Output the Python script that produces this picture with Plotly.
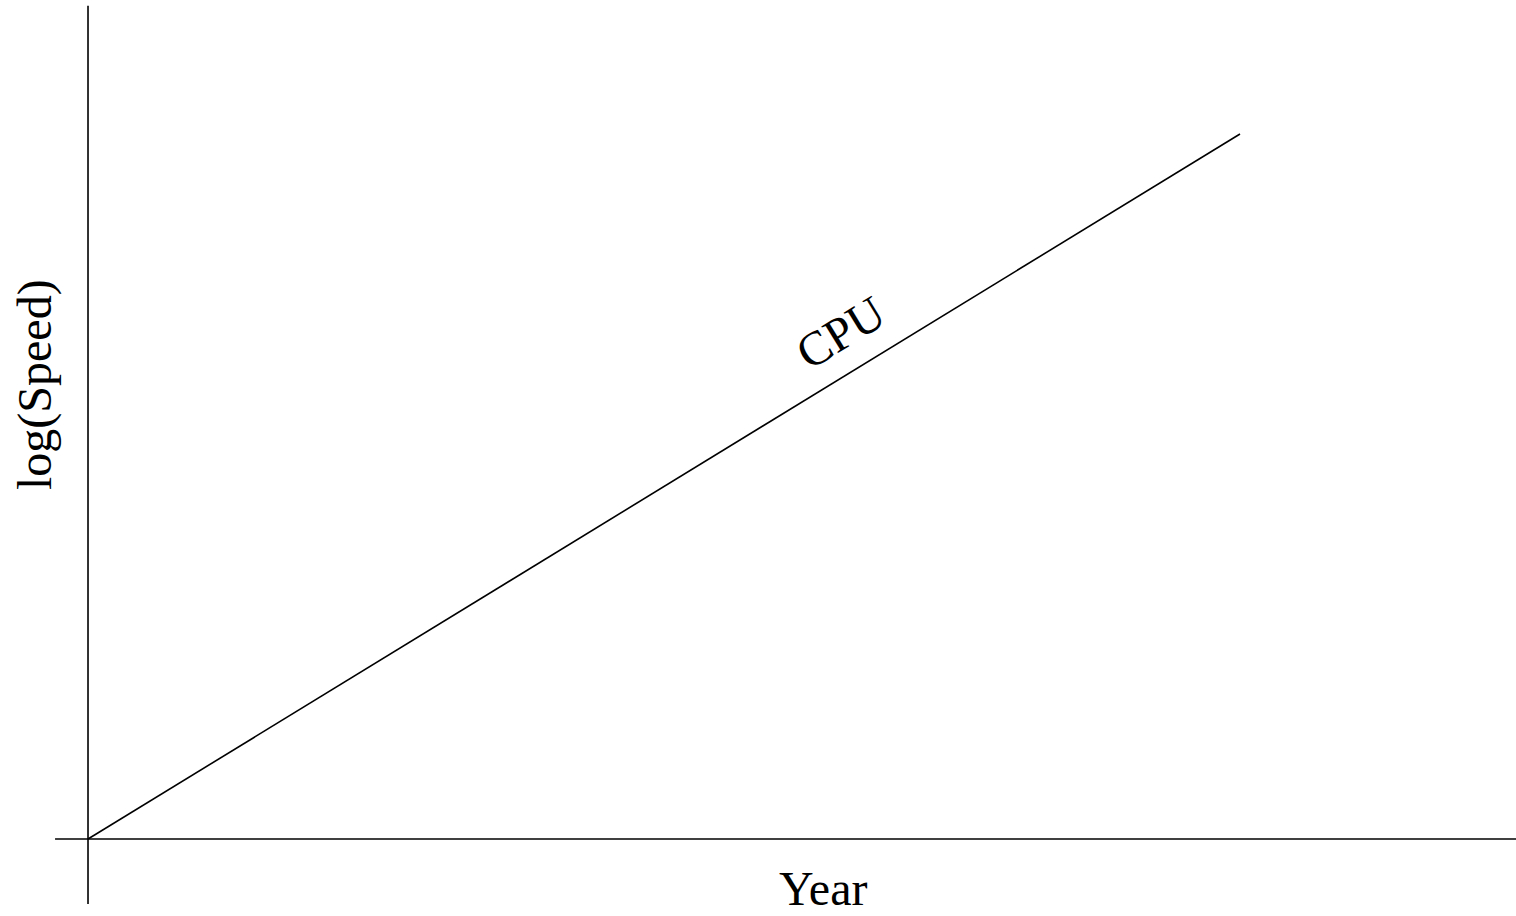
import plotly.graph_objects as go

# Data (abstract units: origin of the axes at (0, 0))
year = [0, 100]
log_speed = [0, 100]
series_label = "CPU"
x_title = "Year"
y_title = "log(Speed)"

W, H = 1516, 916
# axis ranges chosen so that the origin sits at pixel (88, 839)
x_range = [-7.64, 123.96]
y_range = [-10.92, 119.0]

fig = go.Figure()
fig.add_trace(go.Scatter(x=year, y=log_speed, mode="lines",
                         line=dict(color="black", width=1.6), showlegend=False,
                         hoverinfo="skip"))

# axis lines
fig.add_shape(type="line", x0=-2.86, x1=x_range[1], y0=0, y1=0,
              line=dict(color="black", width=1.6))
fig.add_shape(type="line", x0=0, x1=0, y0=-9.22, y1=118.2,
              line=dict(color="black", width=1.6))

font = "Liberation Serif, Times New Roman, serif"
fig.add_annotation(x=65.3, y=71.8, text=series_label, showarrow=False,
                   textangle=-31.5, font=dict(family=font, size=48, color="black"))
fig.add_annotation(x=63.8, xref="x", y=0, yref="paper", yanchor="bottom",
                   borderpad=0, text=x_title, showarrow=False,
                   font=dict(family=font, size=48, color="black"))
fig.add_annotation(x=-4.6, y=64.4, text=y_title, showarrow=False,
                   textangle=-90, font=dict(family=font, size=48, color="black"))

fig.update_layout(
    width=W, height=H, margin=dict(l=0, r=0, t=0, b=0),
    plot_bgcolor="white", paper_bgcolor="white",
    xaxis=dict(range=x_range, visible=False, fixedrange=True),
    yaxis=dict(range=y_range, visible=False, fixedrange=True),
)
fig.write_html("out.html", config={"displayModeBar": False})

# remove the default page margin so the figure fills the window exactly
with open("out.html", encoding="utf-8") as f:
    html = f.read()
html = html.replace("<body>", '<body style="margin:0;overflow:hidden">', 1)
with open("out.html", "w", encoding="utf-8") as f:
    f.write(html)
